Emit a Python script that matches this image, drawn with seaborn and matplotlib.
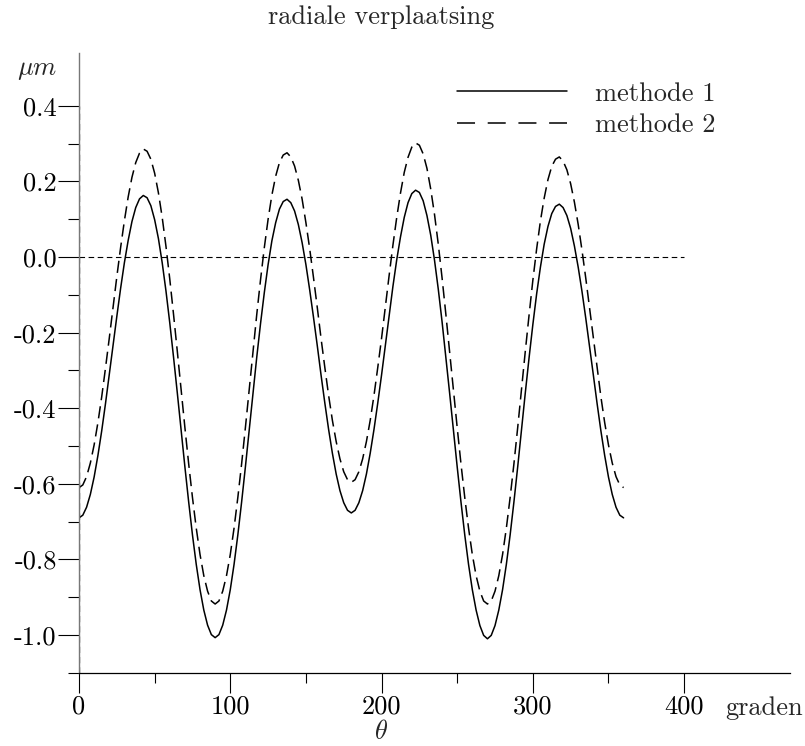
import matplotlib
matplotlib.use("Agg")
import matplotlib.pyplot as plt
import seaborn as sns
import pandas as pd
from matplotlib.lines import Line2D
from matplotlib.ticker import FixedLocator

# angle grid in degrees (step 2.5)
theta = [i * 2.5 for i in range(145)]
methode1 = [
    # 0 .. 90
    -0.690, -0.683, -0.662, -0.628, -0.582, -0.525, -0.460, -0.388, -0.312, -0.234,
    -0.157, -0.083, -0.015, 0.044, 0.094, 0.131, 0.154, 0.163, 0.157, 0.136,
    0.099, 0.049, -0.015, -0.090, -0.174, -0.265, -0.360, -0.458, -0.555, -0.648,
    -0.735, -0.813, -0.880, -0.934, -0.974, -0.999, -1.007,
    # 92.5 .. 180
    -0.999, -0.974, -0.934, -0.880, -0.813, -0.735, -0.648, -0.555, -0.458, -0.360,
    -0.265, -0.176, -0.094, -0.020, 0.043, 0.091, 0.127, 0.147, 0.153, 0.144,
    0.122, 0.086, 0.038, -0.020, -0.087, -0.159, -0.234, -0.312, -0.386, -0.456,
    -0.519, -0.574, -0.618, -0.650, -0.670, -0.677,
    # 182.5 .. 270
    -0.670, -0.650, -0.618, -0.574, -0.519, -0.456, -0.386, -0.312, -0.234, -0.154,
    -0.078, -0.008, 0.053, 0.105, 0.144, 0.168, 0.177, 0.171, 0.149, 0.110,
    0.058, -0.008, -0.085, -0.171, -0.265, -0.360, -0.458, -0.555, -0.648, -0.735,
    -0.813, -0.880, -0.934, -0.975, -1.001, -1.010,
    # 272.5 .. 360
    -1.001, -0.975, -0.934, -0.880, -0.813, -0.735, -0.648, -0.555, -0.458, -0.360,
    -0.267, -0.179, -0.098, -0.027, 0.034, 0.081, 0.115, 0.134, 0.140, 0.131,
    0.110, 0.076, 0.029, -0.027, -0.091, -0.162, -0.236, -0.312, -0.388, -0.460,
    -0.525, -0.582, -0.628, -0.662, -0.683, -0.690,
]
methode2 = [
    # 0 .. 90
    -0.610, -0.603, -0.581, -0.545, -0.497, -0.438, -0.370, -0.294, -0.215, -0.133,
    -0.052, 0.025, 0.096, 0.159, 0.211, 0.250, 0.275, 0.286, 0.280, 0.259,
    0.222, 0.170, 0.105, 0.028, -0.058, -0.152, -0.250, -0.351, -0.451, -0.547,
    -0.636, -0.717, -0.787, -0.843, -0.884, -0.910, -0.918,
    # 92.5 .. 180
    -0.910, -0.884, -0.843, -0.787, -0.717, -0.636, -0.547, -0.451, -0.351, -0.250,
    -0.152, -0.060, 0.025, 0.100, 0.164, 0.214, 0.250, 0.270, 0.276, 0.265,
    0.241, 0.203, 0.153, 0.091, 0.022, -0.054, -0.133, -0.215, -0.292, -0.366,
    -0.432, -0.488, -0.534, -0.568, -0.589, -0.596,
    # 182.5 .. 270
    -0.589, -0.568, -0.534, -0.488, -0.432, -0.366, -0.292, -0.215, -0.132, -0.049,
    0.031, 0.104, 0.169, 0.224, 0.264, 0.291, 0.302, 0.296, 0.273, 0.235,
    0.180, 0.113, 0.034, -0.055, -0.151, -0.250, -0.351, -0.451, -0.547, -0.636,
    -0.717, -0.787, -0.843, -0.884, -0.910, -0.918,
    # 272.5 .. 360
    -0.910, -0.884, -0.843, -0.787, -0.717, -0.636, -0.547, -0.451, -0.351, -0.250,
    -0.154, -0.062, 0.021, 0.095, 0.156, 0.205, 0.240, 0.259, 0.265, 0.254,
    0.231, 0.194, 0.145, 0.086, 0.018, -0.056, -0.135, -0.215, -0.294, -0.370,
    -0.438, -0.497, -0.545, -0.581, -0.603, -0.610,
]
series_names = ["methode 1", "methode 2"]
x_major = [0, 100, 200, 300, 400]
x_minor = [50, 150, 250, 350]
y_major = [-1.0, -0.8, -0.6, -0.4, -0.2, 0.0, 0.2, 0.4]
y_major_labels = ["-1.0", "-0.8", "-0.6", "-0.4", "-0.2", "0.0", "0.2", "0.4"]
y_minor = [-1.1, -0.9, -0.7, -0.5, -0.3, -0.1, 0.1, 0.3]
title = "radiale verplaatsing"
x_unit = "graden"
x_label = r"$\theta$"
y_label = r"$\mu m$"

sns.set_theme(style="white")
plt.rcParams["font.family"] = ["cmr10", "DejaVu Serif"]
plt.rcParams["mathtext.fontset"] = "cm"
plt.rcParams["axes.unicode_minus"] = False
plt.rcParams["axes.formatter.use_mathtext"] = True

df = pd.DataFrame({
    "theta": theta + theta,
    "value": methode1 + methode2,
    "method": [series_names[0]] * len(theta) + [series_names[1]] * len(theta),
})

W, H = 805, 746
fig = plt.figure(figsize=(W / 100, H / 100), dpi=100)
ax = fig.add_axes([79 / W, (H - 672.8) / H, 711 / W, (672.8 - 53) / H])
ax.set_xlim(0, 470)
ax.set_ylim(-1.1, 0.54)

sns.lineplot(data=df, x="theta", y="value", style="method",
             dashes={series_names[0]: "", series_names[1]: (8, 4)},
             color="black", lw=1.1, estimator=None, legend=False, ax=ax)

ax.hlines(0, 0, 400, colors="black", linestyles=(0, (5, 3.2)), lw=0.8)
ax.vlines(0, -1.1, 0.4, colors="black", linestyles=(0, (5, 3.2)), lw=0.9)

for s in ["top", "right"]:
    ax.spines[s].set_visible(False)
ax.spines["left"].set_color("#777777")
ax.spines["left"].set_linewidth(1.0)
ax.spines["bottom"].set_color("black")
ax.spines["bottom"].set_linewidth(0.9)

ax.xaxis.set_major_locator(FixedLocator(x_major))
ax.xaxis.set_minor_locator(FixedLocator(x_minor))
ax.set_xticklabels([str(v) for v in x_major])
ax.yaxis.set_major_locator(FixedLocator(y_major))
ax.yaxis.set_minor_locator(FixedLocator(y_minor))
ax.set_yticklabels(y_major_labels)
ax.tick_params(axis="x", which="major", direction="out", length=14.4, width=0.8,
               pad=1.5, labelsize=19, colors="black", bottom=True)
ax.tick_params(axis="x", which="minor", direction="out", length=7.2, width=0.8,
               colors="black", bottom=True)
ax.tick_params(axis="y", which="major", direction="out", length=15.1, width=0.8,
               pad=1.0, labelsize=19, colors="black", left=True)
ax.tick_params(axis="y", which="minor", direction="out", length=7.9, width=0.8,
               colors="black", left=True)
ax.set_xlabel("")
ax.set_ylabel("")
ax.grid(False)

handles = [Line2D([], [], color="black", lw=1.1),
           Line2D([], [], color="black", lw=1.1, linestyle=(0, (11.8, 8.3)))]
ax.legend(handles, series_names, loc="upper left",
          bbox_to_anchor=(457 / W, 1 - 82 / H), bbox_transform=fig.transFigure,
          frameon=False, borderpad=0, borderaxespad=0, handlelength=4.17,
          handletextpad=1.06, labelspacing=0.3, fontsize=19)

fig.text(381 / W, 1 - 17 / H, title, ha="center", va="center", fontsize=19)
fig.text(57 / W, 1 - 70 / H, y_label, ha="right", va="center", fontsize=19)
fig.text(725 / W, 1 - 715 / H, x_unit, ha="left", va="baseline", fontsize=19)
fig.text(381 / W, 1 - 732 / H, x_label, ha="center", va="center", fontsize=19)

fig.savefig("out.png", dpi=100)
